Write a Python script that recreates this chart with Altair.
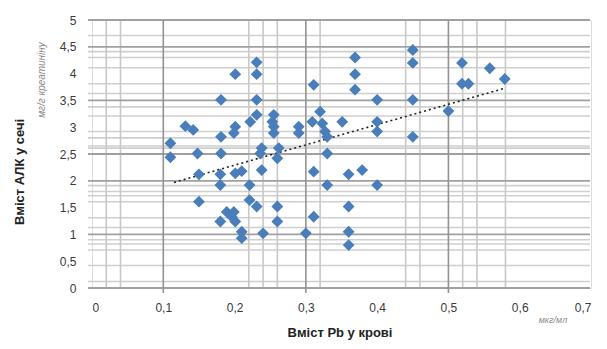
import altair as alt
import pandas as pd

# Scatter values
pb = [0.110, 0.110, 0.131, 0.142, 0.148, 0.150, 0.150,
      0.181, 0.181, 0.181, 0.180, 0.180, 0.180,
      0.201, 0.201, 0.199, 0.201, 0.210, 0.189, 0.199, 0.196, 0.201, 0.210, 0.210,
      0.221, 0.221, 0.231, 0.231, 0.231, 0.231, 0.231, 0.222,
      0.238, 0.236, 0.238, 0.240,
      0.255, 0.253, 0.255, 0.255, 0.262, 0.260, 0.260, 0.260,
      0.290, 0.290, 0.300,
      0.311, 0.309, 0.320, 0.323, 0.327, 0.330, 0.330, 0.311, 0.330, 0.311,
      0.351, 0.369, 0.369, 0.369, 0.360, 0.379, 0.360, 0.360, 0.360,
      0.400, 0.400, 0.400, 0.400,
      0.450, 0.450, 0.450, 0.450,
      0.500, 0.519, 0.519, 0.528, 0.558, 0.579]
ala = [2.70, 2.44, 3.02, 2.95, 2.51, 2.12, 1.61,
       3.51, 2.82, 2.51, 2.12, 1.92, 1.24,
       3.99, 3.01, 2.89, 2.14, 2.18, 1.42, 1.42, 1.33, 1.24, 1.05, 0.93,
       1.92, 1.64, 1.52, 4.21, 3.99, 3.51, 3.23, 3.10,
       2.61, 2.51, 2.20, 1.02,
       3.23, 3.10, 3.01, 2.89, 2.61, 2.42, 1.52, 1.24,
       3.01, 2.89, 1.02,
       3.79, 3.10, 3.29, 3.07, 2.92, 2.82, 2.51, 2.17, 1.92, 1.33,
       3.10, 4.30, 3.99, 3.70, 2.12, 2.20, 1.52, 1.05, 0.80,
       3.51, 3.10, 2.92, 1.92,
       4.44, 4.20, 3.51, 2.82,
       3.30, 4.20, 3.81, 3.81, 4.10, 3.90]

# Trend line end points
trend_x = [0.115, 0.58]
trend_y = [1.97, 3.73]

# Gridline positions
vgrid_dark = [0.1, 0.3, 0.5]
vgrid_light = [0.02, 0.04, 0.22, 0.24, 0.26, 0.32, 0.44, 0.46, 0.52, 0.54, 0.58]
hgrid_dark = [0, 1, 2, 2.5, 3.5, 4.5, 5]
hgrid_light = [0.12, 0.42, 0.71, 0.82, 0.90, 1.13, 1.31, 1.61, 1.72, 1.80, 1.91,
               2.61, 2.65, 2.80, 2.92, 3.21, 3.38, 3.63, 3.81, 4.11, 4.30, 4.41, 4.71]

x_ticks = [0, 0.1, 0.2, 0.3, 0.4, 0.5, 0.6, 0.7]
y_ticks = [0, 0.5, 1, 1.5, 2, 2.5, 3, 3.5, 4, 4.5, 5]

W, H = 499, 268
FONT = "Liberation Sans"

xs = alt.Scale(domain=[0, 0.7], nice=False, zero=False)
ys = alt.Scale(domain=[0, 5], nice=False, zero=False)
lab = "replace(toString(datum.value), '.', ',')"
XAX = alt.Axis(values=x_ticks, labelExpr=lab, grid=False, domain=False, ticks=False,
               title=None, labelPadding=14, labelFont=FONT, labelFontSize=12,
               labelColor="#3a3a3a")
YAX = alt.Axis(values=y_ticks, labelExpr=lab, grid=False, domain=False, ticks=False,
               title=None, labelPadding=16, labelFont=FONT, labelFontSize=12,
               labelColor="#3a3a3a")

df = pd.DataFrame({"pb": pb, "ala": ala})
tdf = pd.DataFrame({"pb": trend_x, "ala": trend_y})

hl = alt.Chart(pd.DataFrame({"v": hgrid_light})).mark_rule(color="#cfcfcf", strokeWidth=1.6).encode(
    y=alt.Y("v:Q", scale=ys, axis=YAX), x=alt.value(-4), x2=alt.value(W - 1))
vl = alt.Chart(pd.DataFrame({"v": vgrid_light})).mark_rule(color="#c8c8c8", strokeWidth=1.6).encode(
    x=alt.X("v:Q", scale=xs, axis=XAX), y=alt.value(0), y2=alt.value(H))
hd = alt.Chart(pd.DataFrame({"v": hgrid_dark})).mark_rule(color="#a0a0a0", strokeWidth=1.8).encode(
    y=alt.Y("v:Q", scale=ys, axis=YAX), x=alt.value(-4), x2=alt.value(W - 1))
vd = alt.Chart(pd.DataFrame({"v": vgrid_dark})).mark_rule(color="#939393", strokeWidth=1.6).encode(
    x=alt.X("v:Q", scale=xs, axis=XAX), y=alt.value(0), y2=alt.value(H + 5))

pts = alt.Chart(df).mark_point(shape="diamond", filled=True, size=140, opacity=1,
                               color="#4A7EBB").encode(
    x=alt.X("pb:Q", scale=xs, axis=XAX),
    y=alt.Y("ala:Q", scale=ys, axis=YAX))

trend = alt.Chart(tdf).mark_line(color="#222222", strokeWidth=1.6, strokeDash=[2, 3]).encode(
    x=alt.X("pb:Q", scale=xs, axis=XAX), y=alt.Y("ala:Q", scale=ys, axis=YAX))

def txt(s, x, y, size, bold=False, angle=0, color="#222222", italic=False):
    return alt.Chart(pd.DataFrame({"t": [s]})).mark_text(
        text=s, font=FONT, fontSize=size, fontWeight="bold" if bold else "normal",
        fontStyle="italic" if italic else "normal",
        angle=angle, color=color, align="center", baseline="middle").encode(
        x=alt.value(x), y=alt.value(y))

ytitle = txt("Вміст АЛК у сечі", -72, 152, 13, bold=True, angle=270)
yunit = txt("мг/г креатиніну", -50, 60, 10, angle=270, color="#8a8a8a", italic=True)
xtitle = txt("Вміст Pb у крові", 248, H + 45, 13, bold=True)
xunit = txt("мкг/мл", 461, H + 32, 9, color="#8a8a8a", italic=True)

chart = alt.layer(hl, vl, hd, vd, trend, pts, ytitle, yunit, xtitle, xunit).properties(
    width=W, height=H,
    autosize=alt.AutoSizeParams(type="none"),
    padding={"left": 92, "top": 20, "right": 16, "bottom": 61},
).configure_view(stroke=None).configure(background="white")

chart.save("out.html", embed_options={"renderer": "svg", "actions": False})
